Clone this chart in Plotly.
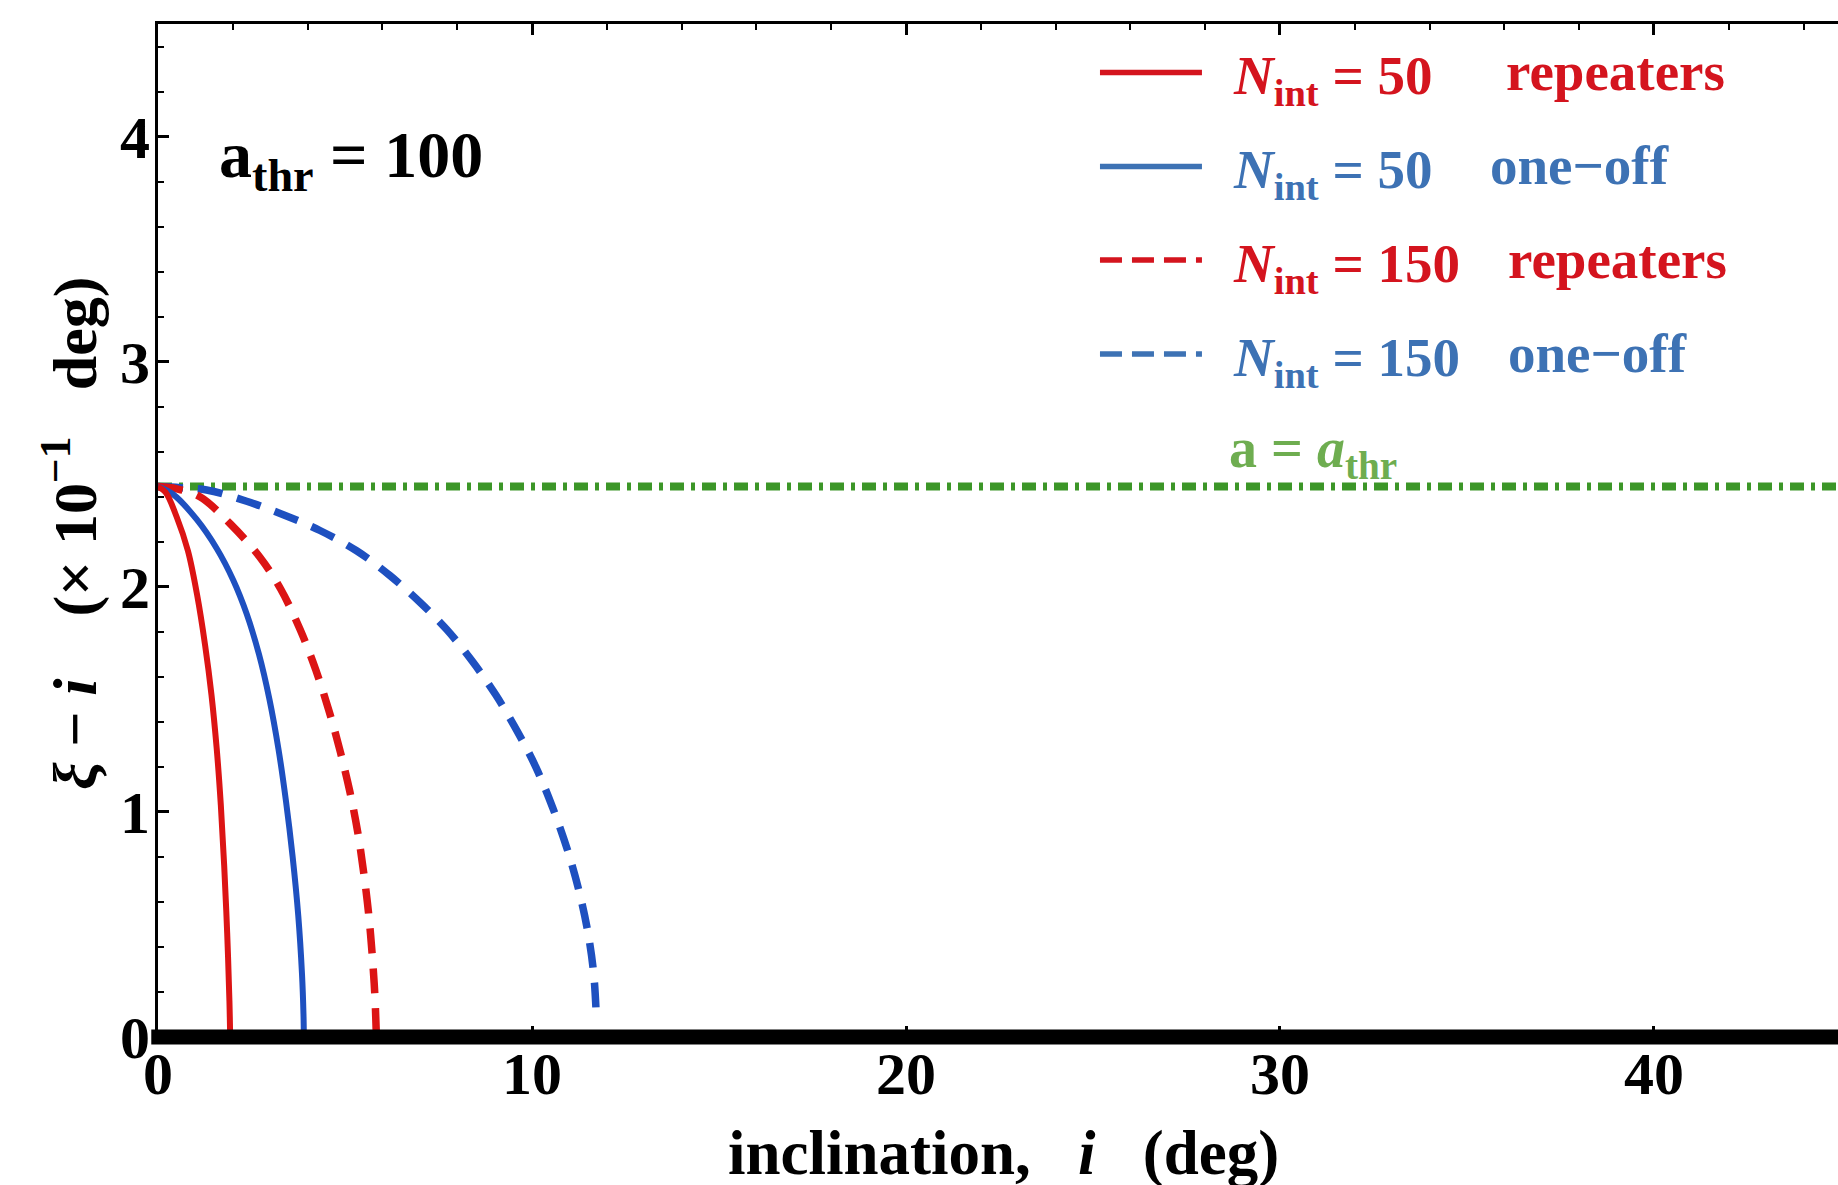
import plotly.graph_objects as go

# xi - i (in units of 1e-1 deg) against inclination i (deg), a_thr = 100
red50_x = [0.0, 0.2, 0.5, 0.8, 1.05, 1.26, 1.43, 1.57, 1.68, 1.77, 1.85, 1.91, 1.93]
red50_y = [2.445, 2.42, 2.31, 2.16, 1.96, 1.74, 1.52, 1.28, 1.03, 0.76, 0.46, 0.16, 0.0]

blue50_x = [0.0, 0.41, 1.03, 1.57, 2.01, 2.37, 2.70, 2.98, 3.22, 3.42, 3.60, 3.75, 3.85, 3.89, 3.90]
blue50_y = [2.445, 2.41, 2.30, 2.17, 2.03, 1.88, 1.70, 1.50, 1.28, 1.05, 0.80, 0.54, 0.28, 0.10, 0.0]

red150_x = [0.0, 0.5, 1.12, 1.93, 2.73, 3.28, 3.80, 4.22, 4.57, 4.87, 5.13, 5.34, 5.50, 5.63, 5.73, 5.80, 5.84]
red150_y = [2.445, 2.435, 2.40, 2.28, 2.13, 1.99, 1.81, 1.63, 1.45, 1.27, 1.09, 0.91, 0.73, 0.55, 0.36, 0.18, 0.0]

blue150_x = [0.0, 0.6, 1.30, 2.37, 3.35, 4.33, 5.31, 6.20, 7.01, 7.72, 8.40, 9.03, 9.60, 10.10,
             10.55, 10.95, 11.27, 11.50, 11.65, 11.72]
blue150_y = [2.445, 2.44, 2.43, 2.38, 2.32, 2.25, 2.16, 2.05, 1.93, 1.81, 1.67, 1.52, 1.36, 1.20,
             1.02, 0.83, 0.64, 0.46, 0.28, 0.09]

# threshold level a = a_thr
thr_x = [0.0, 45.0]
thr_y = [2.445, 2.445]

x_ticks = [0, 10, 20, 30, 40]
y_ticks = [0, 1, 2, 3, 4]

RED = "#DC1414"
BLUE = "#1E50C0"
LEG_RED = "#D4141E"
LEG_BLUE = "#3D72B4"
GREEN = "#3C9628"
GREEN_TXT = "#6EAD50"
SERIF = "Liberation Serif"

fig = go.Figure()

fig.add_trace(go.Scatter(x=thr_x, y=thr_y, mode="lines",
                         line=dict(color=GREEN, width=8, dash="14px,7px,4px,7px")))
fig.add_trace(go.Scatter(x=blue150_x, y=blue150_y, mode="lines", line_shape="spline",
                         line=dict(color=BLUE, width=7.5, dash="25px,15px")))
fig.add_trace(go.Scatter(x=red150_x, y=red150_y, mode="lines", line_shape="spline",
                         line=dict(color=RED, width=7.5, dash="25px,15px")))
fig.add_trace(go.Scatter(x=blue50_x, y=blue50_y, mode="lines", line_shape="spline",
                         line=dict(color=BLUE, width=6)))
fig.add_trace(go.Scatter(x=red50_x, y=red50_y, mode="lines", line_shape="spline",
                         line=dict(color=RED, width=6)))

# heavy baseline along the i-axis
fig.add_shape(type="line", xref="paper", yref="paper", x0=-0.004, x1=1.0, y0=0, y1=0,
              line=dict(color="black", width=15), layer="above")

# legend rows: sample line + label
rows = [
    (0.952, LEG_RED, "solid", "50", "repeaters", 0.8012),
    (0.8593, LEG_BLUE, "solid", "50", "one\u2212off", 0.7917),
    (0.7670, LEG_RED, "22px,10px", "150", "repeaters", 0.8024),
    (0.6742, LEG_BLUE, "22px,10px", "150", "one\u2212off", 0.8024),
]
for ypos, col, dash, nval, kind, kx in rows:
    fig.add_shape(type="line", xref="paper", yref="paper", x0=0.5607, x1=0.6214,
                  y0=ypos, y1=ypos, line=dict(color=col, width=5.5, dash=dash))
    fig.add_annotation(xref="paper", yref="paper", x=0.6387, y=ypos - 0.007,
                       xanchor="left", yanchor="middle", showarrow=False,
                       text=f"<i>N</i><sub>int</sub> = {nval}",
                       font=dict(family=SERIF, size=55, color=col, weight="bold"))
    fig.add_annotation(xref="paper", yref="paper", x=kx, y=ypos + 0.001,
                       xanchor="left", yanchor="middle", showarrow=False,
                       text=kind,
                       font=dict(family=SERIF, size=55, color=col, weight="bold"))

fig.add_annotation(xref="paper", yref="paper", x=0.6363, y=0.577,
                   xanchor="left", yanchor="middle", showarrow=False,
                   text="a = <i>a</i><sub>thr</sub>",
                   font=dict(family=SERIF, size=56, color=GREEN_TXT, weight="bold"))

fig.add_annotation(xref="paper", yref="paper", x=(217 - 158) / 1680, y=0.866,
                   xanchor="left", yanchor="middle", showarrow=False,
                   text="a<sub>thr</sub> = 100",
                   font=dict(family=SERIF, size=66, color="black", weight="bold"))

# axis titles
fig.add_annotation(xref="paper", yref="paper", x=0.503, y=-0.1145,
                   xanchor="center", yanchor="middle", showarrow=False, borderpad=0,
                   text="inclination,\u00a0\u00a0\u00a0<i>i</i>\u00a0\u00a0\u00a0(deg)",
                   font=dict(family=SERIF, size=63, color="black", weight="bold"))
fig.add_annotation(xref="paper", yref="paper", x=-0.0524, y=0.4975,
                   xanchor="center", yanchor="middle", showarrow=False, textangle=-90,
                   text="<i>\u03be</i> \u2212 <i>i</i>\u00a0\u00a0\u00a0\u00a0(\u00d7 10<sup>\u22121</sup>\u00a0\u00a0\u00a0deg)",
                   font=dict(family=SERIF, size=62, color="black", weight="bold"))

fig.update_layout(
    width=1838, height=1185,
    margin=dict(l=158, r=0, t=24, b=148),
    paper_bgcolor="white", plot_bgcolor="white",
    showlegend=False,
    xaxis=dict(range=[0, 44.92], tickvals=x_ticks, ticktext=[str(v) for v in x_ticks],
               ticks="inside", ticklen=11, tickwidth=2.5, tickcolor="black",
               showline=True, linewidth=3, linecolor="black", mirror="ticks",
               showgrid=False, zeroline=False, ticklabelstandoff=-18,
               minor=dict(dtick=2, ticks="inside", ticklen=6, tickwidth=2, tickcolor="black",
                          showgrid=False),
               tickfont=dict(family=SERIF, size=60, color="black", weight="bold")),
    yaxis=dict(range=[0, 4.5], tickvals=y_ticks, ticktext=[str(v) for v in y_ticks],
               ticks="inside", ticklen=11, tickwidth=2.5, tickcolor="black",
               showline=True, linewidth=3, linecolor="black", mirror=False,
               showgrid=False, zeroline=False, ticklabelstandoff=-7,
               minor=dict(dtick=0.2, ticks="inside", ticklen=6, tickwidth=2, tickcolor="black",
                          showgrid=False),
               tickfont=dict(family=SERIF, size=60, color="black", weight="bold")),
)

fig.write_html("out.html")
